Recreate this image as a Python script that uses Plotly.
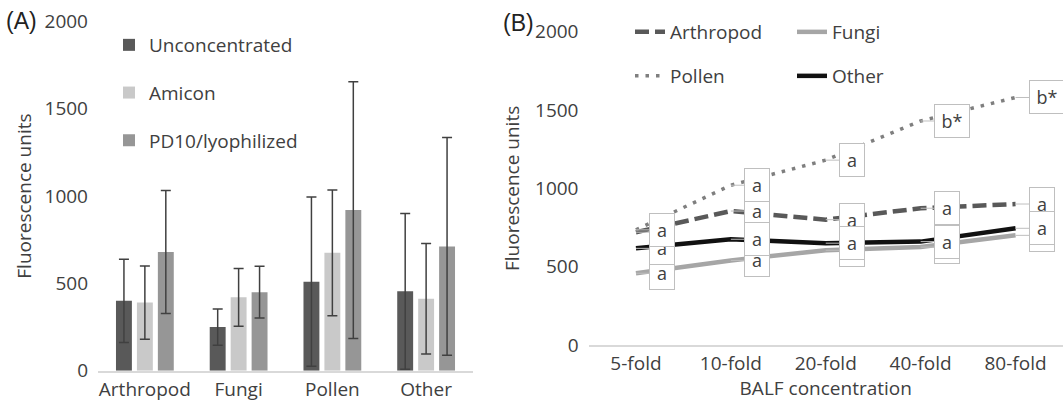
import plotly.graph_objects as go

# panel A data
sources = ["Arthropod", "Fungi", "Pollen", "Other"]
unconc = [400, 250, 510, 455]
unconc_sd = [238, 104, 485, 446]
amicon = [390, 420, 675, 412]
amicon_sd = [210, 165, 360, 316]
pd10 = [680, 450, 920, 712]
pd10_sd = [352, 148, 735, 623]

# panel B data
folds = ["5-fold", "10-fold", "20-fold", "40-fold", "80-fold"]
arthropod = [720, 855, 800, 873, 900]
fungi = [458, 540, 605, 625, 700]
pollen = [735, 1020, 1180, 1430, 1580]
other = [617, 675, 650, 660, 745]
arthropod_lbl = ["a", "a", "a", "a", "a"]
fungi_lbl = ["a", "a", "a", "a", "a"]
pollen_lbl = ["a", "a", "a", "b*", "b*"]
other_lbl = ["a", "a", "a", "a", "a"]

W, H = 1063, 401
FONT = "Open Sans"
TXT = "#404040"

fig = go.Figure()

bar_sets = [
    ("Unconcentrated", unconc, unconc_sd, "#595959"),
    ("Amicon", amicon, amicon_sd, "#c9c9c9"),
    ("PD10/lyophilized", pd10, pd10_sd, "#969696"),
]
for name, vals, sd, col in bar_sets:
    fig.add_trace(go.Bar(
        x=sources, y=vals, name=name, marker_color=col, marker_line_width=0,
        error_y=dict(type="data", array=sd, color="#404040", thickness=1.5, width=5),
        legend="legend", legendgroup=name,
    ))

line_sets = [
    ("Arthropod", arthropod, "#595959", 4.5, "14px,6px", "legend2"),
    ("Fungi", fungi, "#a6a6a6", 4.5, "solid", "legend2"),
    ("Pollen", pollen, "#7f7f7f", 3.5, "3.5px,7px", "legend3"),
    ("Other", other, "#111111", 4.5, "solid", "legend3"),
]
for name, vals, col, w, dash, lg in line_sets:
    fig.add_trace(go.Scatter(
        x=folds, y=vals, name=name, mode="lines",
        line=dict(color=col, width=w, dash=dash),
        xaxis="x2", yaxis="y2", legend=lg,
    ))

# data callouts, drawn so the overlaps stack like the original
annotations = []
for vals, lbls in [(fungi, fungi_lbl), (arthropod, arthropod_lbl),
                   (other, other_lbl), (pollen, pollen_lbl)]:
    for f, v, t in zip(folds, vals, lbls):
        bw = 24 if len(t) == 1 else 34
        annotations.append(dict(
            x=f, y=v, xref="x2", yref="y2", text=t,
            showarrow=True, arrowhead=0, arrowwidth=1, arrowcolor="#bfbfbf",
            ax=13 + bw / 2 + 1, ay=0,
            width=bw, height=32, bgcolor="white",
            bordercolor="#bfbfbf", borderwidth=1, borderpad=0,
            font=dict(family=FONT, size=18, color=TXT),
        ))

annotations += [
    dict(x=21 / W, y=1 - 21 / H, xref="paper", yref="paper", text="(A)",
         xanchor="center", yanchor="middle", showarrow=False,
         font=dict(family="Liberation Sans", size=23, color="#222222")),
    dict(x=518 / W, y=1 - 23 / H, xref="paper", yref="paper", text="(B)",
         xanchor="center", yanchor="middle", showarrow=False,
         font=dict(family="Liberation Sans", size=23, color="#222222")),
]

axis_font = dict(family=FONT, size=19, color=TXT)
legend_common = dict(font=dict(family=FONT, size=19, color=TXT),
                     bgcolor="rgba(0,0,0,0)", xanchor="left", yanchor="top")

fig.update_layout(
    width=W, height=H,
    margin=dict(l=0, r=0, t=0, b=0, autoexpand=False),
    paper_bgcolor="white", plot_bgcolor="white",
    barmode="group", bargap=0.33, bargroupgap=0.24,
    font=dict(family=FONT, color=TXT),
    xaxis=dict(domain=[98 / W, 473 / W], anchor="y", range=[-0.5, 3.5],
               showline=True, linecolor="#d9d9d9", linewidth=1.5,
               showgrid=False, ticks="", tickfont=axis_font, ticklabelstandoff=1),
    yaxis=dict(domain=[1 - 370.7 / H, 1 - 21.5 / H], anchor="x", range=[0, 2000],
               dtick=500, showgrid=False, zeroline=False, showline=False,
               tickfont=axis_font, ticklabelstandoff=9,
               title=dict(text="Fluorescence units", font=axis_font, standoff=7)),
    xaxis2=dict(domain=[588.5 / W, 1.0], anchor="y2", range=[-0.5, 4.5],
                showline=True, linecolor="#d9d9d9", linewidth=1.5,
                showgrid=False, ticks="", tickfont=axis_font, ticklabelstandoff=0,
                title=dict(text="BALF concentration", font=axis_font, standoff=8)),
    yaxis2=dict(domain=[1 - 345 / H, 1 - 31.7 / H], anchor="x2", range=[0, 2000],
                dtick=500, showgrid=False, zeroline=False, showline=False,
                tickfont=axis_font, ticklabelstandoff=9,
                title=dict(text="Fluorescence units", font=axis_font, standoff=10)),
    legend=dict(x=109 / W, y=1 - 26 / H, orientation="v", tracegroupgap=20,
                **legend_common),
    legend2=dict(x=630 / W, y=1 - 13 / H, orientation="h", entrywidth=117,
                 **legend_common),
    legend3=dict(x=630 / W, y=1 - 57 / H, orientation="h", entrywidth=117,
                 **legend_common),
    annotations=annotations,
)

# the page's default body margin would shift the whole figure by 8px
fig.write_html("out.html", config={"displayModeBar": False},
               post_script="document.body.style.margin='0px';")
